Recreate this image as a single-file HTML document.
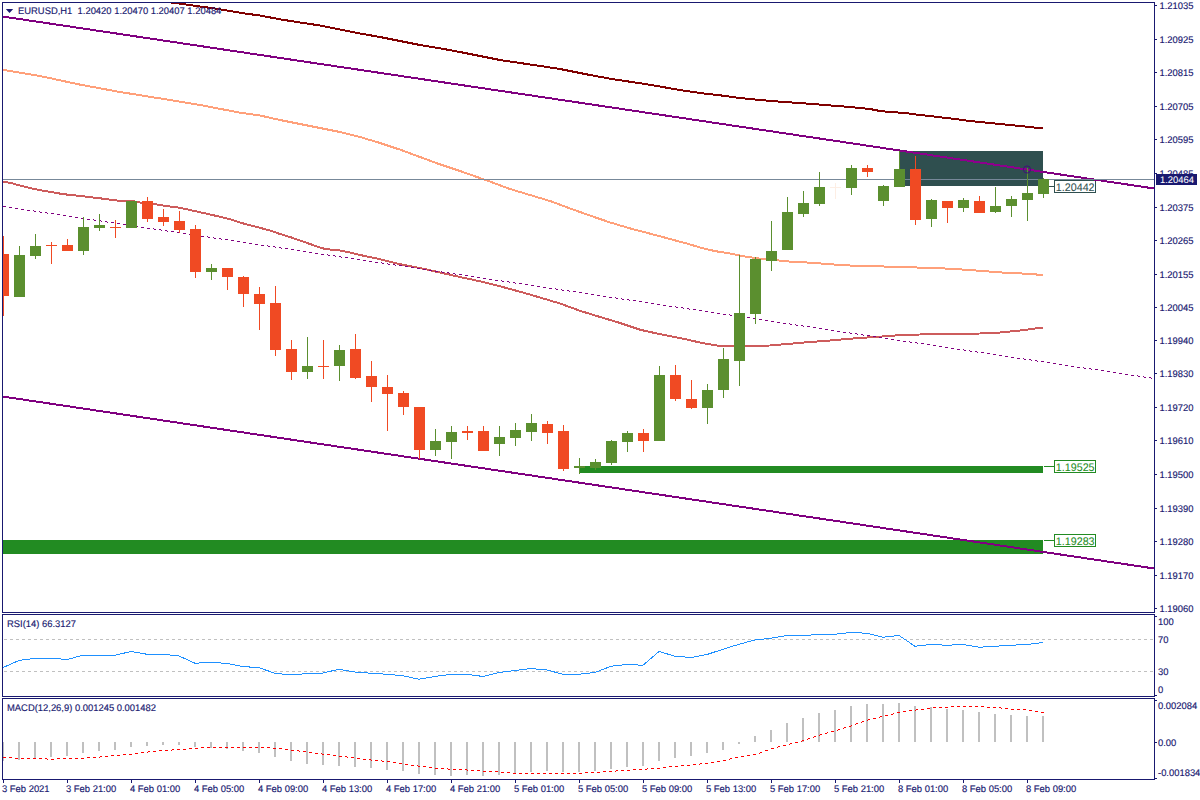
<!DOCTYPE html>
<html><head><meta charset="utf-8"><title>EURUSD,H1</title>
<style>
html,body{margin:0;padding:0;background:#fff;width:1200px;height:800px;overflow:hidden}
svg{display:block}
text{font-family:"Liberation Sans", sans-serif;font-size:9.6px;color:#191970;fill:currentColor;text-rendering:geometricPrecision;stroke:currentColor;stroke-width:0.15px}
</style></head><body>
<svg width="1200" height="800" viewBox="0 0 1200 800">
<defs><clipPath id="cm"><rect x="3" y="3" width="1151" height="609"/></clipPath><clipPath id="cr"><rect x="3" y="615" width="1151" height="81"/></clipPath><clipPath id="cd"><rect x="3" y="699" width="1151" height="80"/></clipPath><clipPath id="crect"><rect x="899" y="151" width="144" height="35"/></clipPath></defs>
<rect width="1200" height="800" fill="#fff"/>
<g clip-path="url(#cm)" shape-rendering="crispEdges">
<rect x="3" y="540" width="1040" height="14" fill="#228b22"/>
<rect x="579" y="466" width="464" height="7" fill="#228b22"/>
<rect x="899" y="151" width="144" height="35" fill="#2f4f4f"/>
<line x1="1049" y1="186.5" x2="1054" y2="186.5" stroke="#2f4f4f" stroke-width="1" shape-rendering="crispEdges"/><rect x="1054.5" y="180.5" width="41" height="12" fill="#fff" stroke="#2f4f4f" stroke-width="1" shape-rendering="crispEdges"/><text transform="translate(1055.8 190.5) scale(0.975 1)" style="font-size:11px;color:#2f4f4f;stroke-width:0.05px">1.20442</text>
<line x1="1044" y1="466.5" x2="1054" y2="466.5" stroke="#228b22" stroke-width="1" shape-rendering="crispEdges"/><rect x="1054.5" y="460.5" width="41" height="12" fill="#fff" stroke="#228b22" stroke-width="1" shape-rendering="crispEdges"/><text transform="translate(1055.8 470.5) scale(0.975 1)" style="font-size:11px;color:#228b22;stroke-width:0.05px">1.19525</text>
<line x1="1044" y1="540.5" x2="1054" y2="540.5" stroke="#228b22" stroke-width="1" shape-rendering="crispEdges"/><rect x="1054.5" y="534.5" width="41" height="12" fill="#fff" stroke="#228b22" stroke-width="1" shape-rendering="crispEdges"/><text transform="translate(1055.8 544.5) scale(0.975 1)" style="font-size:11px;color:#228b22;stroke-width:0.05px">1.19283</text>
<polyline points="150.00,-1.00 171.00,2.50 190.00,5.00 200.00,6.50 215.00,8.50 230.00,11.00 245.00,13.50 260.00,15.50 280.00,19.30 300.00,22.50 320.00,25.50 340.00,29.50 360.00,33.50 380.00,37.00 400.00,41.00 420.00,45.00 440.00,48.30 460.00,52.00 480.00,56.00 500.00,60.00 520.00,63.00 540.00,65.90 560.00,69.00 590.00,75.00 612.00,79.00 645.00,84.00 680.00,90.00 700.00,93.00 720.00,95.30 740.00,98.00 760.00,100.00 780.00,101.70 800.00,103.00 825.00,105.00 850.00,107.00 870.00,109.00 880.00,111.00 890.00,112.00 905.00,113.00 920.00,115.00 938.00,117.00 955.00,119.00 970.00,121.00 990.00,123.00 1010.00,125.00 1025.00,126.50 1043.00,128.50" fill="none" stroke="#800000" stroke-width="2"/>
<polyline points="2.00,69.60 40.00,76.00 80.00,84.60 120.00,92.00 160.00,98.40 200.00,105.00 240.00,112.70 260.00,115.50 280.00,120.00 300.00,124.00 320.00,128.00 340.00,132.00 360.00,137.00 380.00,143.00 400.00,149.60 420.00,157.00 440.00,164.40 460.00,171.00 470.00,174.50 490.00,181.60 510.00,189.00 530.00,195.00 550.00,201.00 570.00,208.40 590.00,215.60 610.00,222.40 630.00,228.40 650.00,233.60 670.00,239.00 690.00,244.40 700.00,247.50 715.00,251.10 730.00,253.50 745.00,256.50 760.00,258.60 775.00,260.10 790.00,261.60 805.00,262.40 820.00,263.40 835.00,264.60 850.00,265.50 880.00,266.40 910.00,267.30 940.00,268.20 970.00,270.00 1000.00,272.40 1030.00,273.90 1043.00,275.10" fill="none" stroke="#ffa07a" stroke-width="2"/>
<polyline points="2.00,181.80 10.00,182.80 20.00,185.50 30.00,188.00 40.00,190.20 50.00,191.80 60.00,193.60 70.00,195.00 80.00,195.90 90.00,197.20 100.00,198.30 110.00,199.70 120.00,200.80 131.00,200.80 140.00,202.50 150.00,203.50 160.00,205.00 170.00,206.50 180.00,207.80 190.00,210.00 200.00,212.20 210.00,214.50 220.00,216.80 230.00,219.20 240.00,222.60 250.00,225.20 260.00,227.80 270.00,230.50 280.00,234.00 290.00,237.00 300.00,240.50 310.00,244.00 320.00,247.50 325.00,249.00 330.00,249.50 340.00,250.50 350.00,252.50 360.00,255.00 380.00,259.20 400.00,264.20 420.00,268.00 440.00,272.50 460.00,277.00 480.00,281.30 500.00,286.30 520.00,291.70 540.00,297.50 560.00,303.50 580.00,310.80 600.00,317.00 620.00,323.00 640.00,329.70 660.00,334.20 680.00,338.00 700.00,342.50 715.00,345.30 720.00,345.80 750.00,345.80 770.00,345.50 790.00,343.75 810.00,342.00 830.00,340.50 850.00,338.75 870.00,337.25 890.00,336.00 900.00,335.00 920.00,334.50 950.00,334.00 980.00,333.50 1000.00,332.50 1020.00,330.50 1043.00,327.50" fill="none" stroke="#cd5c5c" stroke-width="2"/>
<line x1="2" y1="16.416" x2="1154" y2="188.47" stroke="#800080" stroke-width="2"/>
<line x1="2" y1="396.416" x2="1154" y2="568.47" stroke="#800080" stroke-width="2"/>
<line x1="2" y1="16.416" x2="1154" y2="188.47" stroke="#8c008c" stroke-width="2" clip-path="url(#crect)"/>
<path d="M3,206h1v1h-1zM4,206h1v1h-1zM5,206h1v1h-1zM9,207h1v1h-1zM10,207h1v1h-1zM11,207h1v1h-1zM15,208h1v1h-1zM16,208h1v1h-1zM17,208h1v1h-1zM21,209h1v1h-1zM22,209h1v1h-1zM23,209h1v1h-1zM27,210h1v1h-1zM28,210h1v1h-1zM29,210h1v1h-1zM33,210h1v1h-1zM34,211h1v1h-1zM35,211h1v1h-1zM39,211h1v1h-1zM40,212h1v1h-1zM41,212h1v1h-1zM45,212h1v1h-1zM46,212h1v1h-1zM47,213h1v1h-1zM51,213h1v1h-1zM52,213h1v1h-1zM53,213h1v1h-1zM57,214h1v1h-1zM58,214h1v1h-1zM59,214h1v1h-1zM63,215h1v1h-1zM64,215h1v1h-1zM65,215h1v1h-1zM69,216h1v1h-1zM70,216h1v1h-1zM71,216h1v1h-1zM75,217h1v1h-1zM76,217h1v1h-1zM77,217h1v1h-1zM81,218h1v1h-1zM82,218h1v1h-1zM83,218h1v1h-1zM87,219h1v1h-1zM88,219h1v1h-1zM89,219h1v1h-1zM93,219h1v1h-1zM94,220h1v1h-1zM95,220h1v1h-1zM99,220h1v1h-1zM100,220h1v1h-1zM101,221h1v1h-1zM105,221h1v1h-1zM106,221h1v1h-1zM107,222h1v1h-1zM111,222h1v1h-1zM112,222h1v1h-1zM113,222h1v1h-1zM117,223h1v1h-1zM118,223h1v1h-1zM119,223h1v1h-1zM123,224h1v1h-1zM124,224h1v1h-1zM125,224h1v1h-1zM129,225h1v1h-1zM130,225h1v1h-1zM131,225h1v1h-1zM135,226h1v1h-1zM136,226h1v1h-1zM137,226h1v1h-1zM141,227h1v1h-1zM142,227h1v1h-1zM143,227h1v1h-1zM147,228h1v1h-1zM148,228h1v1h-1zM149,228h1v1h-1zM153,228h1v1h-1zM154,229h1v1h-1zM155,229h1v1h-1zM159,229h1v1h-1zM160,229h1v1h-1zM161,230h1v1h-1zM165,230h1v1h-1zM166,230h1v1h-1zM167,231h1v1h-1zM171,231h1v1h-1zM172,231h1v1h-1zM173,231h1v1h-1zM177,232h1v1h-1zM178,232h1v1h-1zM179,232h1v1h-1zM183,233h1v1h-1zM184,233h1v1h-1zM185,233h1v1h-1zM189,234h1v1h-1zM190,234h1v1h-1zM191,234h1v1h-1zM195,235h1v1h-1zM196,235h1v1h-1zM197,235h1v1h-1zM201,236h1v1h-1zM202,236h1v1h-1zM203,236h1v1h-1zM207,236h1v1h-1zM208,237h1v1h-1zM209,237h1v1h-1zM213,237h1v1h-1zM214,238h1v1h-1zM215,238h1v1h-1zM219,238h1v1h-1zM220,238h1v1h-1zM221,239h1v1h-1zM225,239h1v1h-1zM226,239h1v1h-1zM227,239h1v1h-1zM231,240h1v1h-1zM232,240h1v1h-1zM233,240h1v1h-1zM237,241h1v1h-1zM238,241h1v1h-1zM239,241h1v1h-1zM243,242h1v1h-1zM244,242h1v1h-1zM245,242h1v1h-1zM249,243h1v1h-1zM250,243h1v1h-1zM251,243h1v1h-1zM255,244h1v1h-1zM256,244h1v1h-1zM257,244h1v1h-1zM261,245h1v1h-1zM262,245h1v1h-1zM263,245h1v1h-1zM267,245h1v1h-1zM268,246h1v1h-1zM269,246h1v1h-1zM273,246h1v1h-1zM274,246h1v1h-1zM275,247h1v1h-1zM279,247h1v1h-1zM280,247h1v1h-1zM281,248h1v1h-1zM285,248h1v1h-1zM286,248h1v1h-1zM287,248h1v1h-1zM291,249h1v1h-1zM292,249h1v1h-1zM293,249h1v1h-1zM297,250h1v1h-1zM298,250h1v1h-1zM299,250h1v1h-1zM303,251h1v1h-1zM304,251h1v1h-1zM305,251h1v1h-1zM309,252h1v1h-1zM310,252h1v1h-1zM311,252h1v1h-1zM315,253h1v1h-1zM316,253h1v1h-1zM317,253h1v1h-1zM321,254h1v1h-1zM322,254h1v1h-1zM323,254h1v1h-1zM327,254h1v1h-1zM328,255h1v1h-1zM329,255h1v1h-1zM333,255h1v1h-1zM334,255h1v1h-1zM335,256h1v1h-1zM339,256h1v1h-1zM340,256h1v1h-1zM341,257h1v1h-1zM345,257h1v1h-1zM346,257h1v1h-1zM347,257h1v1h-1zM351,258h1v1h-1zM352,258h1v1h-1zM353,258h1v1h-1zM357,259h1v1h-1zM358,259h1v1h-1zM359,259h1v1h-1zM363,260h1v1h-1zM364,260h1v1h-1zM365,260h1v1h-1zM369,261h1v1h-1zM370,261h1v1h-1zM371,261h1v1h-1zM375,262h1v1h-1zM376,262h1v1h-1zM377,262h1v1h-1zM381,262h1v1h-1zM382,263h1v1h-1zM383,263h1v1h-1zM387,263h1v1h-1zM388,264h1v1h-1zM389,264h1v1h-1zM393,264h1v1h-1zM394,264h1v1h-1zM395,265h1v1h-1zM399,265h1v1h-1zM400,265h1v1h-1zM401,265h1v1h-1zM405,266h1v1h-1zM406,266h1v1h-1zM407,266h1v1h-1zM411,267h1v1h-1zM412,267h1v1h-1zM413,267h1v1h-1zM417,268h1v1h-1zM418,268h1v1h-1zM419,268h1v1h-1zM423,269h1v1h-1zM424,269h1v1h-1zM425,269h1v1h-1zM429,270h1v1h-1zM430,270h1v1h-1zM431,270h1v1h-1zM435,271h1v1h-1zM436,271h1v1h-1zM437,271h1v1h-1zM441,271h1v1h-1zM442,272h1v1h-1zM443,272h1v1h-1zM447,272h1v1h-1zM448,272h1v1h-1zM449,273h1v1h-1zM453,273h1v1h-1zM454,273h1v1h-1zM455,274h1v1h-1zM459,274h1v1h-1zM460,274h1v1h-1zM461,274h1v1h-1zM465,275h1v1h-1zM466,275h1v1h-1zM467,275h1v1h-1zM471,276h1v1h-1zM472,276h1v1h-1zM473,276h1v1h-1zM477,277h1v1h-1zM478,277h1v1h-1zM479,277h1v1h-1zM483,278h1v1h-1zM484,278h1v1h-1zM485,278h1v1h-1zM489,279h1v1h-1zM490,279h1v1h-1zM491,279h1v1h-1zM495,280h1v1h-1zM496,280h1v1h-1zM497,280h1v1h-1zM501,280h1v1h-1zM502,281h1v1h-1zM503,281h1v1h-1zM507,281h1v1h-1zM508,281h1v1h-1zM509,282h1v1h-1zM513,282h1v1h-1zM514,282h1v1h-1zM515,283h1v1h-1zM519,283h1v1h-1zM520,283h1v1h-1zM521,283h1v1h-1zM525,284h1v1h-1zM526,284h1v1h-1zM527,284h1v1h-1zM531,285h1v1h-1zM532,285h1v1h-1zM533,285h1v1h-1zM537,286h1v1h-1zM538,286h1v1h-1zM539,286h1v1h-1zM543,287h1v1h-1zM544,287h1v1h-1zM545,287h1v1h-1zM549,288h1v1h-1zM550,288h1v1h-1zM551,288h1v1h-1zM555,288h1v1h-1zM556,289h1v1h-1zM557,289h1v1h-1zM561,289h1v1h-1zM562,290h1v1h-1zM563,290h1v1h-1zM567,290h1v1h-1zM568,290h1v1h-1zM569,291h1v1h-1zM573,291h1v1h-1zM574,291h1v1h-1zM575,291h1v1h-1zM579,292h1v1h-1zM580,292h1v1h-1zM581,292h1v1h-1zM585,293h1v1h-1zM586,293h1v1h-1zM587,293h1v1h-1zM591,294h1v1h-1zM592,294h1v1h-1zM593,294h1v1h-1zM597,295h1v1h-1zM598,295h1v1h-1zM599,295h1v1h-1zM603,296h1v1h-1zM604,296h1v1h-1zM605,296h1v1h-1zM609,297h1v1h-1zM610,297h1v1h-1zM611,297h1v1h-1zM615,297h1v1h-1zM616,298h1v1h-1zM617,298h1v1h-1zM621,298h1v1h-1zM622,299h1v1h-1zM623,299h1v1h-1zM627,299h1v1h-1zM628,299h1v1h-1zM629,300h1v1h-1zM633,300h1v1h-1zM634,300h1v1h-1zM635,300h1v1h-1zM639,301h1v1h-1zM640,301h1v1h-1zM641,301h1v1h-1zM645,302h1v1h-1zM646,302h1v1h-1zM647,302h1v1h-1zM651,303h1v1h-1zM652,303h1v1h-1zM653,303h1v1h-1zM657,304h1v1h-1zM658,304h1v1h-1zM659,304h1v1h-1zM663,305h1v1h-1zM664,305h1v1h-1zM665,305h1v1h-1zM669,306h1v1h-1zM670,306h1v1h-1zM671,306h1v1h-1zM675,306h1v1h-1zM676,307h1v1h-1zM677,307h1v1h-1zM681,307h1v1h-1zM682,307h1v1h-1zM683,308h1v1h-1zM687,308h1v1h-1zM688,308h1v1h-1zM689,309h1v1h-1zM693,309h1v1h-1zM694,309h1v1h-1zM695,309h1v1h-1zM699,310h1v1h-1zM700,310h1v1h-1zM701,310h1v1h-1zM705,311h1v1h-1zM706,311h1v1h-1zM707,311h1v1h-1zM711,312h1v1h-1zM712,312h1v1h-1zM713,312h1v1h-1zM717,313h1v1h-1zM718,313h1v1h-1zM719,313h1v1h-1zM723,314h1v1h-1zM724,314h1v1h-1zM725,314h1v1h-1zM729,314h1v1h-1zM730,315h1v1h-1zM731,315h1v1h-1zM735,315h1v1h-1zM736,316h1v1h-1zM737,316h1v1h-1zM741,316h1v1h-1zM742,316h1v1h-1zM743,317h1v1h-1zM747,317h1v1h-1zM748,317h1v1h-1zM749,317h1v1h-1zM753,318h1v1h-1zM754,318h1v1h-1zM755,318h1v1h-1zM759,319h1v1h-1zM760,319h1v1h-1zM761,319h1v1h-1zM765,320h1v1h-1zM766,320h1v1h-1zM767,320h1v1h-1zM771,321h1v1h-1zM772,321h1v1h-1zM773,321h1v1h-1zM777,322h1v1h-1zM778,322h1v1h-1zM779,322h1v1h-1zM783,323h1v1h-1zM784,323h1v1h-1zM785,323h1v1h-1zM789,323h1v1h-1zM790,324h1v1h-1zM791,324h1v1h-1zM795,324h1v1h-1zM796,325h1v1h-1zM797,325h1v1h-1zM801,325h1v1h-1zM802,325h1v1h-1zM803,326h1v1h-1zM807,326h1v1h-1zM808,326h1v1h-1zM809,326h1v1h-1zM813,327h1v1h-1zM814,327h1v1h-1zM815,327h1v1h-1zM819,328h1v1h-1zM820,328h1v1h-1zM821,328h1v1h-1zM825,329h1v1h-1zM826,329h1v1h-1zM827,329h1v1h-1zM831,330h1v1h-1zM832,330h1v1h-1zM833,330h1v1h-1zM837,331h1v1h-1zM838,331h1v1h-1zM839,331h1v1h-1zM843,332h1v1h-1zM844,332h1v1h-1zM845,332h1v1h-1zM849,332h1v1h-1zM850,333h1v1h-1zM851,333h1v1h-1zM855,333h1v1h-1zM856,333h1v1h-1zM857,334h1v1h-1zM861,334h1v1h-1zM862,334h1v1h-1zM863,335h1v1h-1zM867,335h1v1h-1zM868,335h1v1h-1zM869,335h1v1h-1zM873,336h1v1h-1zM874,336h1v1h-1zM875,336h1v1h-1zM879,337h1v1h-1zM880,337h1v1h-1zM881,337h1v1h-1zM885,338h1v1h-1zM886,338h1v1h-1zM887,338h1v1h-1zM891,339h1v1h-1zM892,339h1v1h-1zM893,339h1v1h-1zM897,340h1v1h-1zM898,340h1v1h-1zM899,340h1v1h-1zM903,341h1v1h-1zM904,341h1v1h-1zM905,341h1v1h-1zM909,341h1v1h-1zM910,342h1v1h-1zM911,342h1v1h-1zM915,342h1v1h-1zM916,342h1v1h-1zM917,343h1v1h-1zM921,343h1v1h-1zM922,343h1v1h-1zM923,343h1v1h-1zM927,344h1v1h-1zM928,344h1v1h-1zM929,344h1v1h-1zM933,345h1v1h-1zM934,345h1v1h-1zM935,345h1v1h-1zM939,346h1v1h-1zM940,346h1v1h-1zM941,346h1v1h-1zM945,347h1v1h-1zM946,347h1v1h-1zM947,347h1v1h-1zM951,348h1v1h-1zM952,348h1v1h-1zM953,348h1v1h-1zM957,349h1v1h-1zM958,349h1v1h-1zM959,349h1v1h-1zM963,349h1v1h-1zM964,350h1v1h-1zM965,350h1v1h-1zM969,350h1v1h-1zM970,351h1v1h-1zM971,351h1v1h-1zM975,351h1v1h-1zM976,351h1v1h-1zM977,352h1v1h-1zM981,352h1v1h-1zM982,352h1v1h-1zM983,352h1v1h-1zM987,353h1v1h-1zM988,353h1v1h-1zM989,353h1v1h-1zM993,354h1v1h-1zM994,354h1v1h-1zM995,354h1v1h-1zM999,355h1v1h-1zM1000,355h1v1h-1zM1001,355h1v1h-1zM1005,356h1v1h-1zM1006,356h1v1h-1zM1007,356h1v1h-1zM1011,357h1v1h-1zM1012,357h1v1h-1zM1013,357h1v1h-1zM1017,358h1v1h-1zM1018,358h1v1h-1zM1019,358h1v1h-1zM1023,358h1v1h-1zM1024,359h1v1h-1zM1025,359h1v1h-1zM1029,359h1v1h-1zM1030,359h1v1h-1zM1031,360h1v1h-1zM1035,360h1v1h-1zM1036,360h1v1h-1zM1037,361h1v1h-1zM1041,361h1v1h-1zM1042,361h1v1h-1zM1043,361h1v1h-1zM1047,362h1v1h-1zM1048,362h1v1h-1zM1049,362h1v1h-1zM1053,363h1v1h-1zM1054,363h1v1h-1zM1055,363h1v1h-1zM1059,364h1v1h-1zM1060,364h1v1h-1zM1061,364h1v1h-1zM1065,365h1v1h-1zM1066,365h1v1h-1zM1067,365h1v1h-1zM1071,366h1v1h-1zM1072,366h1v1h-1zM1073,366h1v1h-1zM1077,367h1v1h-1zM1078,367h1v1h-1zM1079,367h1v1h-1zM1083,367h1v1h-1zM1084,368h1v1h-1zM1085,368h1v1h-1zM1089,368h1v1h-1zM1090,368h1v1h-1zM1091,369h1v1h-1zM1095,369h1v1h-1zM1096,369h1v1h-1zM1097,369h1v1h-1zM1101,370h1v1h-1zM1102,370h1v1h-1zM1103,370h1v1h-1zM1107,371h1v1h-1zM1108,371h1v1h-1zM1109,371h1v1h-1zM1113,372h1v1h-1zM1114,372h1v1h-1zM1115,372h1v1h-1zM1119,373h1v1h-1zM1120,373h1v1h-1zM1121,373h1v1h-1zM1125,374h1v1h-1zM1126,374h1v1h-1zM1127,374h1v1h-1zM1131,375h1v1h-1zM1132,375h1v1h-1zM1133,375h1v1h-1zM1137,375h1v1h-1zM1138,376h1v1h-1zM1139,376h1v1h-1zM1143,376h1v1h-1zM1144,377h1v1h-1zM1145,377h1v1h-1zM1149,377h1v1h-1zM1150,377h1v1h-1zM1151,378h1v1h-1z" fill="#800080"/>
<line x1="3" y1="179.5" x2="1154" y2="179.5" stroke="#778899" stroke-width="1"/>
<rect x="3" y="236" width="1" height="80" fill="#f04a23"/><rect x="-2" y="254" width="11" height="42" fill="#f04a23"/>
<rect x="19" y="246" width="1" height="51" fill="#5b8f2f"/><rect x="14" y="255" width="11" height="42" fill="#5b8f2f"/>
<rect x="35" y="234" width="1" height="25" fill="#5b8f2f"/><rect x="30" y="246" width="11" height="10" fill="#5b8f2f"/>
<rect x="51" y="242" width="1" height="22" fill="#f04a23"/><rect x="46" y="245" width="11" height="1" fill="#f04a23"/>
<rect x="67" y="239" width="1" height="12" fill="#f04a23"/><rect x="62" y="245" width="11" height="6" fill="#f04a23"/>
<rect x="83" y="217" width="1" height="38" fill="#5b8f2f"/><rect x="78" y="227" width="11" height="24" fill="#5b8f2f"/>
<rect x="99" y="214" width="1" height="17" fill="#5b8f2f"/><rect x="94" y="225" width="11" height="3" fill="#5b8f2f"/>
<rect x="115" y="220" width="1" height="18" fill="#f04a23"/><rect x="110" y="227" width="11" height="1" fill="#f04a23"/>
<rect x="131" y="201" width="1" height="27" fill="#5b8f2f"/><rect x="126" y="201" width="11" height="27" fill="#5b8f2f"/>
<rect x="147" y="197" width="1" height="25" fill="#f04a23"/><rect x="142" y="201" width="11" height="18" fill="#f04a23"/>
<rect x="163" y="209" width="1" height="17" fill="#f04a23"/><rect x="158" y="217" width="11" height="5" fill="#f04a23"/>
<rect x="179" y="211" width="1" height="22" fill="#f04a23"/><rect x="174" y="221" width="11" height="9" fill="#f04a23"/>
<rect x="195" y="225" width="1" height="53" fill="#f04a23"/><rect x="190" y="229" width="11" height="43" fill="#f04a23"/>
<rect x="211" y="264" width="1" height="16" fill="#5b8f2f"/><rect x="206" y="268" width="11" height="4" fill="#5b8f2f"/>
<rect x="227" y="268" width="1" height="22" fill="#f04a23"/><rect x="222" y="268" width="11" height="9" fill="#f04a23"/>
<rect x="243" y="276" width="1" height="31" fill="#f04a23"/><rect x="238" y="277" width="11" height="17" fill="#f04a23"/>
<rect x="259" y="287" width="1" height="43" fill="#f04a23"/><rect x="254" y="294" width="11" height="10" fill="#f04a23"/>
<rect x="275" y="286" width="1" height="70" fill="#f04a23"/><rect x="270" y="303" width="11" height="47" fill="#f04a23"/>
<rect x="291" y="340" width="1" height="40" fill="#f04a23"/><rect x="286" y="349" width="11" height="23" fill="#f04a23"/>
<rect x="307" y="337" width="1" height="42" fill="#5b8f2f"/><rect x="302" y="366" width="11" height="6" fill="#5b8f2f"/>
<rect x="323" y="340" width="1" height="39" fill="#f04a23"/><rect x="318" y="366" width="11" height="1" fill="#f04a23"/>
<rect x="339" y="345" width="1" height="36" fill="#5b8f2f"/><rect x="334" y="350" width="11" height="16" fill="#5b8f2f"/>
<rect x="355" y="334" width="1" height="45" fill="#f04a23"/><rect x="350" y="349" width="11" height="29" fill="#f04a23"/>
<rect x="371" y="361" width="1" height="41" fill="#f04a23"/><rect x="366" y="376" width="11" height="11" fill="#f04a23"/>
<rect x="387" y="375" width="1" height="56" fill="#f04a23"/><rect x="382" y="387" width="11" height="7" fill="#f04a23"/>
<rect x="403" y="391" width="1" height="24" fill="#f04a23"/><rect x="398" y="393" width="11" height="14" fill="#f04a23"/>
<rect x="419" y="407" width="1" height="52" fill="#f04a23"/><rect x="414" y="407" width="11" height="43" fill="#f04a23"/>
<rect x="435" y="429" width="1" height="27" fill="#5b8f2f"/><rect x="430" y="441" width="11" height="9" fill="#5b8f2f"/>
<rect x="451" y="426" width="1" height="33" fill="#5b8f2f"/><rect x="446" y="432" width="11" height="10" fill="#5b8f2f"/>
<rect x="467" y="426" width="1" height="14" fill="#f04a23"/><rect x="462" y="431" width="11" height="2" fill="#f04a23"/>
<rect x="483" y="426" width="1" height="25" fill="#f04a23"/><rect x="478" y="431" width="11" height="20" fill="#f04a23"/>
<rect x="499" y="426" width="1" height="30" fill="#5b8f2f"/><rect x="494" y="437" width="11" height="7" fill="#5b8f2f"/>
<rect x="515" y="423" width="1" height="23" fill="#5b8f2f"/><rect x="510" y="430" width="11" height="8" fill="#5b8f2f"/>
<rect x="531" y="414" width="1" height="27" fill="#5b8f2f"/><rect x="526" y="423" width="11" height="9" fill="#5b8f2f"/>
<rect x="547" y="421" width="1" height="23" fill="#f04a23"/><rect x="542" y="424" width="11" height="9" fill="#f04a23"/>
<rect x="563" y="425" width="1" height="46" fill="#f04a23"/><rect x="558" y="431" width="11" height="38" fill="#f04a23"/>
<rect x="579" y="458" width="1" height="16" fill="#5b8f2f"/><rect x="574" y="466" width="11" height="2" fill="#5b8f2f"/>
<rect x="595" y="459" width="1" height="11" fill="#5b8f2f"/><rect x="590" y="462" width="11" height="6" fill="#5b8f2f"/>
<rect x="611" y="440" width="1" height="25" fill="#5b8f2f"/><rect x="606" y="441" width="11" height="22" fill="#5b8f2f"/>
<rect x="627" y="431" width="1" height="21" fill="#5b8f2f"/><rect x="622" y="433" width="11" height="9" fill="#5b8f2f"/>
<rect x="643" y="429" width="1" height="23" fill="#f04a23"/><rect x="638" y="433" width="11" height="8" fill="#f04a23"/>
<rect x="659" y="366" width="1" height="75" fill="#5b8f2f"/><rect x="654" y="375" width="11" height="66" fill="#5b8f2f"/>
<rect x="675" y="365" width="1" height="36" fill="#f04a23"/><rect x="670" y="375" width="11" height="24" fill="#f04a23"/>
<rect x="691" y="380" width="1" height="29" fill="#f04a23"/><rect x="686" y="399" width="11" height="9" fill="#f04a23"/>
<rect x="707" y="384" width="1" height="40" fill="#5b8f2f"/><rect x="702" y="390" width="11" height="18" fill="#5b8f2f"/>
<rect x="723" y="348" width="1" height="50" fill="#5b8f2f"/><rect x="718" y="359" width="11" height="31" fill="#5b8f2f"/>
<rect x="739" y="255" width="1" height="131" fill="#5b8f2f"/><rect x="734" y="313" width="11" height="48" fill="#5b8f2f"/>
<rect x="755" y="257" width="1" height="67" fill="#5b8f2f"/><rect x="750" y="259" width="11" height="55" fill="#5b8f2f"/>
<rect x="771" y="221" width="1" height="50" fill="#5b8f2f"/><rect x="766" y="251" width="11" height="10" fill="#5b8f2f"/>
<rect x="787" y="197" width="1" height="53" fill="#5b8f2f"/><rect x="782" y="212" width="11" height="38" fill="#5b8f2f"/>
<rect x="803" y="191" width="1" height="26" fill="#5b8f2f"/><rect x="798" y="203" width="11" height="11" fill="#5b8f2f"/>
<rect x="819" y="172" width="1" height="34" fill="#5b8f2f"/><rect x="814" y="187" width="11" height="17" fill="#5b8f2f"/>
<rect x="835" y="183" width="1" height="16" fill="#fdeee4"/><rect x="830" y="187" width="11" height="1" fill="#fdeee4"/>
<rect x="851" y="165" width="1" height="30" fill="#5b8f2f"/><rect x="846" y="168" width="11" height="20" fill="#5b8f2f"/>
<rect x="867" y="165" width="1" height="12" fill="#f04a23"/><rect x="862" y="168" width="11" height="4" fill="#f04a23"/>
<rect x="883" y="185" width="1" height="21" fill="#5b8f2f"/><rect x="878" y="186" width="11" height="15" fill="#5b8f2f"/>
<rect x="899" y="151" width="1" height="36" fill="#5b8f2f"/><rect x="894" y="169" width="11" height="18" fill="#5b8f2f"/>
<rect x="915" y="156" width="1" height="69" fill="#f04a23"/><rect x="910" y="169" width="11" height="51" fill="#f04a23"/>
<rect x="931" y="199" width="1" height="28" fill="#5b8f2f"/><rect x="926" y="200" width="11" height="19" fill="#5b8f2f"/>
<rect x="947" y="201" width="1" height="22" fill="#f04a23"/><rect x="942" y="201" width="11" height="7" fill="#f04a23"/>
<rect x="963" y="198" width="1" height="14" fill="#5b8f2f"/><rect x="958" y="200" width="11" height="8" fill="#5b8f2f"/>
<rect x="979" y="196" width="1" height="17" fill="#f04a23"/><rect x="974" y="201" width="11" height="12" fill="#f04a23"/>
<rect x="995" y="187" width="1" height="26" fill="#5b8f2f"/><rect x="990" y="206" width="11" height="6" fill="#5b8f2f"/>
<rect x="1011" y="196" width="1" height="21" fill="#5b8f2f"/><rect x="1006" y="199" width="11" height="7" fill="#5b8f2f"/>
<rect x="1027" y="168" width="1" height="53" fill="#5b8f2f"/><rect x="1022" y="193" width="11" height="7" fill="#5b8f2f"/>
<rect x="1043" y="178" width="1" height="20" fill="#5b8f2f"/><rect x="1038" y="179" width="11" height="15" fill="#5b8f2f"/>
</g>
<circle cx="1027" cy="169.5" r="3.6" fill="none" stroke="#40107a" stroke-width="1"/>
<g clip-path="url(#cr)" shape-rendering="crispEdges">
<line x1="4" y1="639.5" x2="1154" y2="639.5" stroke="#c0c0c0" stroke-dasharray="3 3"/>
<line x1="4" y1="671.5" x2="1154" y2="671.5" stroke="#c0c0c0" stroke-dasharray="3 3"/>
</g>
<g clip-path="url(#cr)">
<polyline points="3.00,667.50 19.00,660.50 35.00,658.25 51.00,658.25 67.00,659.50 83.00,655.25 99.00,655.25 115.00,655.25 131.00,651.50 147.00,654.25 163.00,654.25 179.00,656.00 195.00,663.25 211.00,662.25 227.00,663.50 243.00,666.50 259.00,667.75 275.00,673.25 291.00,675.00 307.00,673.50 323.00,673.00 339.00,669.25 355.00,672.00 371.00,673.25 387.00,674.25 403.00,675.75 419.00,679.25 435.00,676.50 451.00,674.25 467.00,674.25 483.00,676.50 499.00,672.50 515.00,670.50 531.00,668.50 547.00,670.00 563.00,674.25 579.00,674.25 595.00,672.50 611.00,666.25 627.00,664.50 643.00,665.25 659.00,651.50 675.00,656.25 691.00,657.50 707.00,654.50 723.00,649.25 739.00,644.25 755.00,640.00 771.00,638.25 787.00,635.50 803.00,635.50 819.00,634.50 835.00,634.25 851.00,632.50 867.00,633.25 883.00,637.25 899.00,635.50 915.00,646.25 931.00,644.50 947.00,645.25 963.00,644.50 979.00,647.25 995.00,646.25 1011.00,645.25 1027.00,644.50 1043.00,642.50" fill="none" stroke="#1e90ff" stroke-width="1" shape-rendering="crispEdges"/>
</g>
<g clip-path="url(#cd)" shape-rendering="crispEdges">
<rect x="2" y="742" width="2" height="19" fill="#c0c0c0"/><rect x="18" y="742" width="2" height="18" fill="#c0c0c0"/><rect x="34" y="742" width="2" height="16" fill="#c0c0c0"/><rect x="50" y="742" width="2" height="15" fill="#c0c0c0"/><rect x="66" y="742" width="2" height="14" fill="#c0c0c0"/><rect x="82" y="742" width="2" height="11" fill="#c0c0c0"/><rect x="98" y="742" width="2" height="9" fill="#c0c0c0"/><rect x="114" y="742" width="2" height="8" fill="#c0c0c0"/><rect x="130" y="742" width="2" height="5" fill="#c0c0c0"/><rect x="146" y="742" width="2" height="4" fill="#c0c0c0"/><rect x="162" y="742" width="2" height="3" fill="#c0c0c0"/><rect x="178" y="742" width="2" height="3" fill="#c0c0c0"/><rect x="194" y="742" width="2" height="5" fill="#c0c0c0"/><rect x="210" y="742" width="2" height="6" fill="#c0c0c0"/><rect x="226" y="742" width="2" height="7" fill="#c0c0c0"/><rect x="242" y="742" width="2" height="9" fill="#c0c0c0"/><rect x="258" y="742" width="2" height="11" fill="#c0c0c0"/><rect x="274" y="742" width="2" height="15" fill="#c0c0c0"/><rect x="290" y="742" width="2" height="19" fill="#c0c0c0"/><rect x="306" y="742" width="2" height="22" fill="#c0c0c0"/><rect x="322" y="742" width="2" height="23" fill="#c0c0c0"/><rect x="338" y="742" width="2" height="24" fill="#c0c0c0"/><rect x="354" y="742" width="2" height="25" fill="#c0c0c0"/><rect x="370" y="742" width="2" height="26" fill="#c0c0c0"/><rect x="386" y="742" width="2" height="28" fill="#c0c0c0"/><rect x="402" y="742" width="2" height="29" fill="#c0c0c0"/><rect x="418" y="742" width="2" height="32" fill="#c0c0c0"/><rect x="434" y="742" width="2" height="33" fill="#c0c0c0"/><rect x="450" y="742" width="2" height="34" fill="#c0c0c0"/><rect x="466" y="742" width="2" height="33" fill="#c0c0c0"/><rect x="482" y="742" width="2" height="34" fill="#c0c0c0"/><rect x="498" y="742" width="2" height="33" fill="#c0c0c0"/><rect x="514" y="742" width="2" height="31" fill="#c0c0c0"/><rect x="530" y="742" width="2" height="30" fill="#c0c0c0"/><rect x="546" y="742" width="2" height="29" fill="#c0c0c0"/><rect x="562" y="742" width="2" height="30" fill="#c0c0c0"/><rect x="578" y="742" width="2" height="30" fill="#c0c0c0"/><rect x="594" y="742" width="2" height="29" fill="#c0c0c0"/><rect x="610" y="742" width="2" height="27" fill="#c0c0c0"/><rect x="626" y="742" width="2" height="25" fill="#c0c0c0"/><rect x="642" y="742" width="2" height="24" fill="#c0c0c0"/><rect x="658" y="742" width="2" height="19" fill="#c0c0c0"/><rect x="674" y="742" width="2" height="16" fill="#c0c0c0"/><rect x="690" y="742" width="2" height="14" fill="#c0c0c0"/><rect x="706" y="742" width="2" height="11" fill="#c0c0c0"/><rect x="722" y="742" width="2" height="8" fill="#c0c0c0"/><rect x="738" y="742" width="2" height="2" fill="#c0c0c0"/><rect x="754" y="736" width="2" height="6" fill="#c0c0c0"/><rect x="770" y="730" width="2" height="12" fill="#c0c0c0"/><rect x="786" y="723" width="2" height="19" fill="#c0c0c0"/><rect x="802" y="718" width="2" height="24" fill="#c0c0c0"/><rect x="818" y="713" width="2" height="29" fill="#c0c0c0"/><rect x="834" y="710" width="2" height="32" fill="#c0c0c0"/><rect x="850" y="706" width="2" height="36" fill="#c0c0c0"/><rect x="866" y="704" width="2" height="38" fill="#c0c0c0"/><rect x="882" y="704" width="2" height="38" fill="#c0c0c0"/><rect x="898" y="703" width="2" height="39" fill="#c0c0c0"/><rect x="914" y="706" width="2" height="36" fill="#c0c0c0"/><rect x="930" y="707" width="2" height="35" fill="#c0c0c0"/><rect x="946" y="709" width="2" height="33" fill="#c0c0c0"/><rect x="962" y="710" width="2" height="32" fill="#c0c0c0"/><rect x="978" y="712" width="2" height="30" fill="#c0c0c0"/><rect x="994" y="714" width="2" height="28" fill="#c0c0c0"/><rect x="1010" y="715" width="2" height="27" fill="#c0c0c0"/><rect x="1026" y="716" width="2" height="26" fill="#c0c0c0"/><rect x="1042" y="716" width="2" height="26" fill="#c0c0c0"/>
<path d="M3,757h1v1h-1zM4,757h1v1h-1zM5,757h1v1h-1zM9,757h1v1h-1zM10,757h1v1h-1zM11,757h1v1h-1zM15,758h1v1h-1zM16,758h1v1h-1zM17,758h1v1h-1zM21,758h1v1h-1zM22,758h1v1h-1zM23,758h1v1h-1zM27,758h1v1h-1zM28,758h1v1h-1zM29,758h1v1h-1zM33,758h1v1h-1zM34,758h1v1h-1zM35,758h1v1h-1zM39,758h1v1h-1zM40,758h1v1h-1zM41,758h1v1h-1zM45,758h1v1h-1zM46,758h1v1h-1zM47,759h1v1h-1zM51,759h1v1h-1zM52,759h1v1h-1zM53,759h1v1h-1zM57,758h1v1h-1zM58,758h1v1h-1zM59,758h1v1h-1zM63,758h1v1h-1zM64,758h1v1h-1zM65,758h1v1h-1zM69,758h1v1h-1zM70,758h1v1h-1zM71,758h1v1h-1zM75,758h1v1h-1zM76,758h1v1h-1zM77,758h1v1h-1zM81,758h1v1h-1zM82,758h1v1h-1zM83,758h1v1h-1zM87,757h1v1h-1zM88,757h1v1h-1zM89,757h1v1h-1zM93,757h1v1h-1zM94,757h1v1h-1zM95,757h1v1h-1zM99,757h1v1h-1zM100,756h1v1h-1zM101,756h1v1h-1zM105,756h1v1h-1zM106,756h1v1h-1zM107,756h1v1h-1zM111,755h1v1h-1zM112,755h1v1h-1zM113,755h1v1h-1zM117,755h1v1h-1zM118,755h1v1h-1zM119,755h1v1h-1zM123,754h1v1h-1zM124,754h1v1h-1zM125,754h1v1h-1zM129,754h1v1h-1zM130,754h1v1h-1zM131,754h1v1h-1zM135,753h1v1h-1zM136,753h1v1h-1zM137,753h1v1h-1zM141,752h1v1h-1zM142,752h1v1h-1zM143,752h1v1h-1zM147,752h1v1h-1zM148,751h1v1h-1zM149,751h1v1h-1zM153,751h1v1h-1zM154,751h1v1h-1zM155,751h1v1h-1zM159,750h1v1h-1zM160,750h1v1h-1zM161,750h1v1h-1zM165,750h1v1h-1zM166,750h1v1h-1zM167,750h1v1h-1zM171,750h1v1h-1zM172,749h1v1h-1zM173,749h1v1h-1zM177,749h1v1h-1zM178,749h1v1h-1zM179,749h1v1h-1zM183,749h1v1h-1zM184,749h1v1h-1zM185,749h1v1h-1zM189,748h1v1h-1zM190,748h1v1h-1zM191,748h1v1h-1zM195,748h1v1h-1zM196,748h1v1h-1zM197,748h1v1h-1zM201,747h1v1h-1zM202,747h1v1h-1zM203,747h1v1h-1zM207,747h1v1h-1zM208,747h1v1h-1zM209,747h1v1h-1zM213,747h1v1h-1zM214,747h1v1h-1zM215,747h1v1h-1zM219,747h1v1h-1zM220,747h1v1h-1zM221,747h1v1h-1zM225,747h1v1h-1zM226,747h1v1h-1zM227,747h1v1h-1zM231,747h1v1h-1zM232,747h1v1h-1zM233,747h1v1h-1zM237,747h1v1h-1zM238,747h1v1h-1zM239,747h1v1h-1zM243,747h1v1h-1zM244,747h1v1h-1zM245,747h1v1h-1zM249,747h1v1h-1zM250,747h1v1h-1zM251,747h1v1h-1zM255,747h1v1h-1zM256,747h1v1h-1zM257,747h1v1h-1zM261,747h1v1h-1zM262,747h1v1h-1zM263,747h1v1h-1zM267,747h1v1h-1zM268,747h1v1h-1zM269,747h1v1h-1zM273,748h1v1h-1zM274,748h1v1h-1zM275,748h1v1h-1zM279,748h1v1h-1zM280,748h1v1h-1zM281,748h1v1h-1zM285,749h1v1h-1zM286,749h1v1h-1zM287,749h1v1h-1zM291,750h1v1h-1zM292,750h1v1h-1zM293,750h1v1h-1zM297,750h1v1h-1zM298,750h1v1h-1zM299,751h1v1h-1zM303,751h1v1h-1zM304,751h1v1h-1zM305,751h1v1h-1zM309,752h1v1h-1zM310,752h1v1h-1zM311,752h1v1h-1zM315,753h1v1h-1zM316,753h1v1h-1zM317,753h1v1h-1zM321,753h1v1h-1zM322,754h1v1h-1zM323,754h1v1h-1zM327,754h1v1h-1zM328,754h1v1h-1zM329,754h1v1h-1zM333,755h1v1h-1zM334,755h1v1h-1zM335,755h1v1h-1zM339,756h1v1h-1zM340,756h1v1h-1zM341,756h1v1h-1zM345,756h1v1h-1zM346,756h1v1h-1zM347,757h1v1h-1zM351,757h1v1h-1zM352,757h1v1h-1zM353,757h1v1h-1zM357,758h1v1h-1zM358,758h1v1h-1zM359,758h1v1h-1zM363,759h1v1h-1zM364,759h1v1h-1zM365,759h1v1h-1zM369,759h1v1h-1zM370,759h1v1h-1zM371,760h1v1h-1zM375,760h1v1h-1zM376,760h1v1h-1zM377,760h1v1h-1zM381,760h1v1h-1zM382,761h1v1h-1zM383,761h1v1h-1zM387,761h1v1h-1zM388,761h1v1h-1zM389,761h1v1h-1zM393,762h1v1h-1zM394,762h1v1h-1zM395,762h1v1h-1zM399,763h1v1h-1zM400,763h1v1h-1zM401,763h1v1h-1zM405,764h1v1h-1zM406,764h1v1h-1zM407,764h1v1h-1zM411,765h1v1h-1zM412,765h1v1h-1zM413,765h1v1h-1zM417,765h1v1h-1zM418,766h1v1h-1zM419,766h1v1h-1zM423,766h1v1h-1zM424,766h1v1h-1zM425,766h1v1h-1zM429,767h1v1h-1zM430,767h1v1h-1zM431,767h1v1h-1zM435,768h1v1h-1zM436,768h1v1h-1zM437,768h1v1h-1zM441,768h1v1h-1zM442,768h1v1h-1zM443,768h1v1h-1zM447,768h1v1h-1zM448,769h1v1h-1zM449,769h1v1h-1zM453,769h1v1h-1zM454,769h1v1h-1zM455,769h1v1h-1zM459,769h1v1h-1zM460,769h1v1h-1zM461,769h1v1h-1zM465,769h1v1h-1zM466,769h1v1h-1zM467,770h1v1h-1zM471,770h1v1h-1zM472,770h1v1h-1zM473,770h1v1h-1zM477,770h1v1h-1zM478,770h1v1h-1zM479,770h1v1h-1zM483,771h1v1h-1zM484,771h1v1h-1zM485,771h1v1h-1zM489,771h1v1h-1zM490,771h1v1h-1zM491,771h1v1h-1zM495,771h1v1h-1zM496,771h1v1h-1zM497,771h1v1h-1zM501,772h1v1h-1zM502,772h1v1h-1zM503,772h1v1h-1zM507,772h1v1h-1zM508,772h1v1h-1zM509,772h1v1h-1zM513,773h1v1h-1zM514,773h1v1h-1zM515,773h1v1h-1zM519,773h1v1h-1zM520,773h1v1h-1zM521,773h1v1h-1zM525,773h1v1h-1zM526,773h1v1h-1zM527,773h1v1h-1zM531,773h1v1h-1zM532,773h1v1h-1zM533,773h1v1h-1zM537,773h1v1h-1zM538,773h1v1h-1zM539,773h1v1h-1zM543,773h1v1h-1zM544,773h1v1h-1zM545,773h1v1h-1zM549,773h1v1h-1zM550,773h1v1h-1zM551,773h1v1h-1zM555,773h1v1h-1zM556,773h1v1h-1zM557,773h1v1h-1zM561,773h1v1h-1zM562,773h1v1h-1zM563,773h1v1h-1zM567,773h1v1h-1zM568,773h1v1h-1zM569,773h1v1h-1zM573,773h1v1h-1zM574,773h1v1h-1zM575,773h1v1h-1zM579,773h1v1h-1zM580,773h1v1h-1zM581,773h1v1h-1zM585,772h1v1h-1zM586,772h1v1h-1zM587,772h1v1h-1zM591,772h1v1h-1zM592,772h1v1h-1zM593,772h1v1h-1zM597,772h1v1h-1zM598,772h1v1h-1zM599,772h1v1h-1zM603,771h1v1h-1zM604,771h1v1h-1zM605,771h1v1h-1zM609,771h1v1h-1zM610,771h1v1h-1zM611,771h1v1h-1zM615,771h1v1h-1zM616,770h1v1h-1zM617,770h1v1h-1zM621,770h1v1h-1zM622,770h1v1h-1zM623,770h1v1h-1zM627,770h1v1h-1zM628,770h1v1h-1zM629,770h1v1h-1zM633,769h1v1h-1zM634,769h1v1h-1zM635,769h1v1h-1zM639,769h1v1h-1zM640,769h1v1h-1zM641,769h1v1h-1zM645,769h1v1h-1zM646,769h1v1h-1zM647,768h1v1h-1zM651,768h1v1h-1zM652,768h1v1h-1zM653,768h1v1h-1zM657,768h1v1h-1zM658,768h1v1h-1zM659,768h1v1h-1zM663,767h1v1h-1zM664,767h1v1h-1zM665,767h1v1h-1zM669,766h1v1h-1zM670,766h1v1h-1zM671,766h1v1h-1zM675,766h1v1h-1zM676,766h1v1h-1zM677,766h1v1h-1zM681,765h1v1h-1zM682,765h1v1h-1zM683,765h1v1h-1zM687,765h1v1h-1zM688,765h1v1h-1zM689,765h1v1h-1zM693,764h1v1h-1zM694,764h1v1h-1zM695,764h1v1h-1zM699,764h1v1h-1zM700,763h1v1h-1zM701,763h1v1h-1zM705,763h1v1h-1zM706,763h1v1h-1zM707,763h1v1h-1zM711,762h1v1h-1zM712,762h1v1h-1zM713,762h1v1h-1zM717,761h1v1h-1zM718,761h1v1h-1zM719,761h1v1h-1zM723,760h1v1h-1zM724,760h1v1h-1zM725,760h1v1h-1zM729,759h1v1h-1zM730,758h1v1h-1zM731,758h1v1h-1zM735,757h1v1h-1zM736,757h1v1h-1zM737,757h1v1h-1zM741,756h1v1h-1zM742,756h1v1h-1zM743,756h1v1h-1zM747,755h1v1h-1zM748,755h1v1h-1zM749,755h1v1h-1zM753,754h1v1h-1zM754,754h1v1h-1zM755,754h1v1h-1zM759,753h1v1h-1zM760,752h1v1h-1zM761,752h1v1h-1zM765,750h1v1h-1zM766,750h1v1h-1zM767,750h1v1h-1zM771,748h1v1h-1zM772,748h1v1h-1zM773,748h1v1h-1zM777,747h1v1h-1zM778,746h1v1h-1zM779,746h1v1h-1zM783,745h1v1h-1zM784,745h1v1h-1zM785,745h1v1h-1zM789,744h1v1h-1zM790,743h1v1h-1zM791,743h1v1h-1zM795,742h1v1h-1zM796,742h1v1h-1zM797,742h1v1h-1zM801,741h1v1h-1zM802,740h1v1h-1zM803,740h1v1h-1zM807,739h1v1h-1zM808,738h1v1h-1zM809,738h1v1h-1zM813,737h1v1h-1zM814,736h1v1h-1zM815,736h1v1h-1zM819,735h1v1h-1zM820,734h1v1h-1zM821,734h1v1h-1zM825,733h1v1h-1zM826,733h1v1h-1zM827,732h1v1h-1zM831,731h1v1h-1zM832,731h1v1h-1zM833,731h1v1h-1zM837,730h1v1h-1zM838,729h1v1h-1zM839,729h1v1h-1zM843,728h1v1h-1zM844,727h1v1h-1zM845,727h1v1h-1zM849,726h1v1h-1zM850,726h1v1h-1zM851,725h1v1h-1zM855,724h1v1h-1zM856,723h1v1h-1zM857,723h1v1h-1zM861,722h1v1h-1zM862,721h1v1h-1zM863,721h1v1h-1zM867,720h1v1h-1zM868,719h1v1h-1zM869,719h1v1h-1zM873,718h1v1h-1zM874,718h1v1h-1zM875,718h1v1h-1zM879,717h1v1h-1zM880,716h1v1h-1zM881,716h1v1h-1zM885,715h1v1h-1zM886,715h1v1h-1zM887,715h1v1h-1zM891,714h1v1h-1zM892,714h1v1h-1zM893,713h1v1h-1zM897,712h1v1h-1zM898,712h1v1h-1zM899,712h1v1h-1zM903,711h1v1h-1zM904,711h1v1h-1zM905,711h1v1h-1zM909,710h1v1h-1zM910,710h1v1h-1zM911,710h1v1h-1zM915,710h1v1h-1zM916,709h1v1h-1zM917,709h1v1h-1zM921,709h1v1h-1zM922,709h1v1h-1zM923,709h1v1h-1zM927,708h1v1h-1zM928,708h1v1h-1zM929,708h1v1h-1zM933,707h1v1h-1zM934,707h1v1h-1zM935,707h1v1h-1zM939,707h1v1h-1zM940,707h1v1h-1zM941,707h1v1h-1zM945,707h1v1h-1zM946,707h1v1h-1zM947,707h1v1h-1zM951,706h1v1h-1zM952,706h1v1h-1zM953,706h1v1h-1zM957,706h1v1h-1zM958,706h1v1h-1zM959,706h1v1h-1zM963,706h1v1h-1zM964,706h1v1h-1zM965,706h1v1h-1zM969,706h1v1h-1zM970,706h1v1h-1zM971,706h1v1h-1zM975,706h1v1h-1zM976,706h1v1h-1zM977,706h1v1h-1zM981,706h1v1h-1zM982,706h1v1h-1zM983,706h1v1h-1zM987,707h1v1h-1zM988,707h1v1h-1zM989,707h1v1h-1zM993,707h1v1h-1zM994,707h1v1h-1zM995,707h1v1h-1zM999,707h1v1h-1zM1000,707h1v1h-1zM1001,708h1v1h-1zM1005,708h1v1h-1zM1006,708h1v1h-1zM1007,708h1v1h-1zM1011,709h1v1h-1zM1012,709h1v1h-1zM1013,709h1v1h-1zM1017,709h1v1h-1zM1018,709h1v1h-1zM1019,709h1v1h-1zM1023,709h1v1h-1zM1024,709h1v1h-1zM1025,709h1v1h-1zM1029,710h1v1h-1zM1030,710h1v1h-1zM1031,710h1v1h-1zM1035,711h1v1h-1zM1036,711h1v1h-1zM1037,711h1v1h-1zM1041,712h1v1h-1zM1042,712h1v1h-1zM1043,712h1v1h-1z" fill="#ff0000"/>
</g>
<g fill="none" stroke="#191970" stroke-width="1" shape-rendering="crispEdges">
<rect x="2.5" y="2.5" width="1152" height="610"/>
<rect x="2.5" y="614.5" width="1152" height="82"/>
<rect x="2.5" y="698.5" width="1152" height="81"/>
</g>
<g shape-rendering="crispEdges" fill="#191970"><rect x="1155" y="5" width="2" height="1"/><rect x="1155" y="39" width="2" height="1"/><rect x="1155" y="72" width="2" height="1"/><rect x="1155" y="106" width="2" height="1"/><rect x="1155" y="139" width="2" height="1"/><rect x="1155" y="173" width="2" height="1"/><rect x="1155" y="207" width="2" height="1"/><rect x="1155" y="240" width="2" height="1"/><rect x="1155" y="274" width="2" height="1"/><rect x="1155" y="307" width="2" height="1"/><rect x="1155" y="340" width="2" height="1"/><rect x="1155" y="373" width="2" height="1"/><rect x="1155" y="407" width="2" height="1"/><rect x="1155" y="440" width="2" height="1"/><rect x="1155" y="474" width="2" height="1"/><rect x="1155" y="508" width="2" height="1"/><rect x="1155" y="541" width="2" height="1"/><rect x="1155" y="575" width="2" height="1"/><rect x="1155" y="608" width="2" height="1"/></g>
<text transform="translate(1159.5 9) scale(0.98 1)">1.21035</text><text transform="translate(1159.5 43) scale(0.98 1)">1.20925</text><text transform="translate(1159.5 76) scale(0.98 1)">1.20815</text><text transform="translate(1159.5 110) scale(0.98 1)">1.20705</text><text transform="translate(1159.5 143) scale(0.98 1)">1.20595</text><text transform="translate(1159.5 177) scale(0.98 1)">1.20485</text><text transform="translate(1159.5 211) scale(0.98 1)">1.20375</text><text transform="translate(1159.5 244) scale(0.98 1)">1.20265</text><text transform="translate(1159.5 278) scale(0.98 1)">1.20155</text><text transform="translate(1159.5 311) scale(0.98 1)">1.20045</text><text transform="translate(1159.5 344) scale(0.98 1)">1.19940</text><text transform="translate(1159.5 377) scale(0.98 1)">1.19830</text><text transform="translate(1159.5 411) scale(0.98 1)">1.19720</text><text transform="translate(1159.5 444) scale(0.98 1)">1.19610</text><text transform="translate(1159.5 478) scale(0.98 1)">1.19500</text><text transform="translate(1159.5 512) scale(0.98 1)">1.19390</text><text transform="translate(1159.5 545) scale(0.98 1)">1.19280</text><text transform="translate(1159.5 579) scale(0.98 1)">1.19170</text><text transform="translate(1159.5 612) scale(0.98 1)">1.19060</text>
<rect x="1156" y="174" width="41" height="11" fill="#191970" shape-rendering="crispEdges"/><text transform="translate(1160 183) scale(0.98 1)" style="color:#fff;stroke-width:0.05px">1.20464</text>
<g shape-rendering="crispEdges" fill="#191970"><rect x="1155" y="616" width="2" height="1"/><rect x="1155" y="695" width="2" height="1"/><rect x="1155" y="700" width="2" height="1"/><rect x="1155" y="742" width="2" height="1"/><rect x="1155" y="778" width="2" height="1"/></g>
<text transform="translate(1158 625) scale(0.98 1)">100</text><text transform="translate(1158 643) scale(0.98 1)">70</text><text transform="translate(1158 675) scale(0.98 1)">30</text><text transform="translate(1158 693) scale(0.98 1)">0</text>
<text transform="translate(1158 709) scale(0.98 1)">0.002084</text><text transform="translate(1158 746) scale(0.98 1)">0.00</text><text transform="translate(1158 776) scale(0.98 1)">-0.001834</text>
<text transform="translate(7 627) scale(0.98 1)">RSI(14) 66.3127</text>
<text transform="translate(7 711) scale(0.98 1)">MACD(12,26,9) 0.001245 0.001482</text>
<path d="M5.8,9 L13.2,9 L9.5,13 Z" fill="#191970"/>
<text transform="translate(18 14) scale(0.98 1)" xml:space="preserve">EURUSD,H1  1.20420 1.20470 1.20407 1.20484</text>
<g shape-rendering="crispEdges" fill="#191970"><rect x="3" y="780" width="1" height="3"/><rect x="67" y="780" width="1" height="3"/><rect x="131" y="780" width="1" height="3"/><rect x="195" y="780" width="1" height="3"/><rect x="259" y="780" width="1" height="3"/><rect x="323" y="780" width="1" height="3"/><rect x="387" y="780" width="1" height="3"/><rect x="451" y="780" width="1" height="3"/><rect x="515" y="780" width="1" height="3"/><rect x="579" y="780" width="1" height="3"/><rect x="643" y="780" width="1" height="3"/><rect x="707" y="780" width="1" height="3"/><rect x="771" y="780" width="1" height="3"/><rect x="835" y="780" width="1" height="3"/><rect x="899" y="780" width="1" height="3"/><rect x="963" y="780" width="1" height="3"/><rect x="1027" y="780" width="1" height="3"/></g>
<text transform="translate(2 792) scale(0.98 1)">3 Feb 2021</text><text transform="translate(66 792) scale(0.98 1)">3 Feb 21:00</text><text transform="translate(130 792) scale(0.98 1)">4 Feb 01:00</text><text transform="translate(194 792) scale(0.98 1)">4 Feb 05:00</text><text transform="translate(258 792) scale(0.98 1)">4 Feb 09:00</text><text transform="translate(322 792) scale(0.98 1)">4 Feb 13:00</text><text transform="translate(386 792) scale(0.98 1)">4 Feb 17:00</text><text transform="translate(450 792) scale(0.98 1)">4 Feb 21:00</text><text transform="translate(514 792) scale(0.98 1)">5 Feb 01:00</text><text transform="translate(578 792) scale(0.98 1)">5 Feb 05:00</text><text transform="translate(642 792) scale(0.98 1)">5 Feb 09:00</text><text transform="translate(706 792) scale(0.98 1)">5 Feb 13:00</text><text transform="translate(770 792) scale(0.98 1)">5 Feb 17:00</text><text transform="translate(834 792) scale(0.98 1)">5 Feb 21:00</text><text transform="translate(898 792) scale(0.98 1)">8 Feb 01:00</text><text transform="translate(962 792) scale(0.98 1)">8 Feb 05:00</text><text transform="translate(1026 792) scale(0.98 1)">8 Feb 09:00</text>
</svg>
</body></html>
